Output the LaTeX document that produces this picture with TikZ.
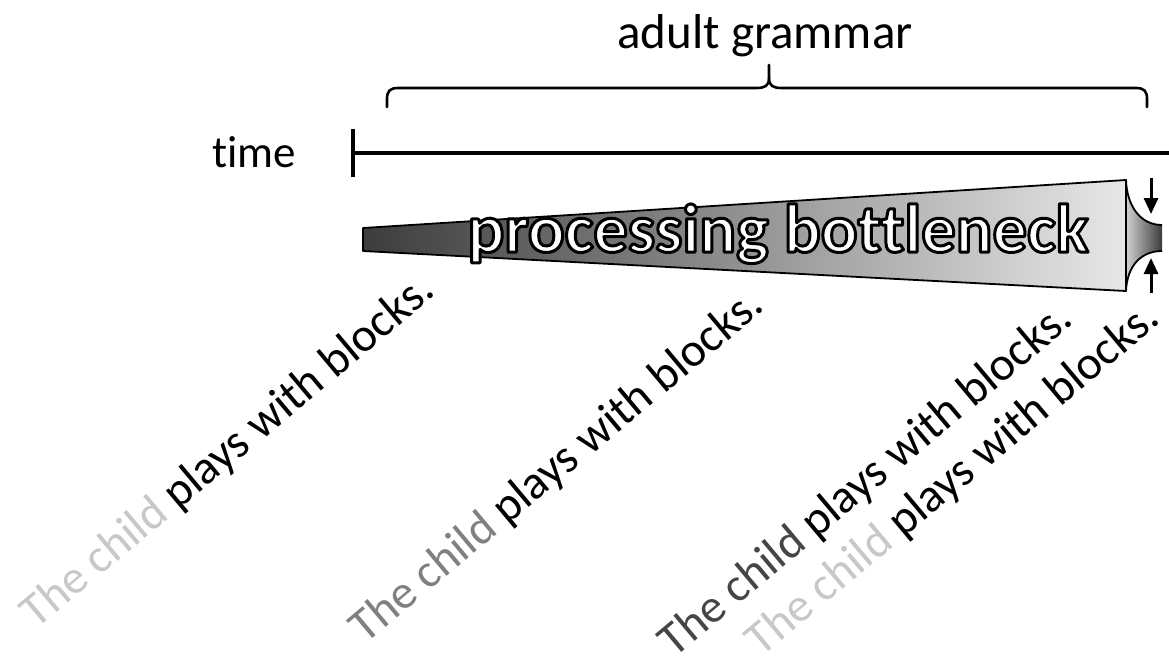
\documentclass[tikz,border=0pt]{standalone}
\usepackage{fontspec}
\setmainfont{Carlito}[Ligatures={NoCommon}]
\usetikzlibrary{arrows.meta}
\definecolor{lightgry}{HTML}{C8C8C8}
\definecolor{midgry}{HTML}{808080}
\definecolor{darkgry}{HTML}{454545}
\definecolor{shadedark}{HTML}{3C3C3C}
\definecolor{shadelight}{HTML}{E8E8E8}
\newcommand{\outlinetext}[1]{\special{pdf:literal direct 0 G 3 w 1 j 2 Tr}#1\special{pdf:literal direct 0 Tr}}
\tikzset{
  sentence/.style={rotate=40, anchor=base east, inner sep=0pt, font=\fontsize{47.5}{58}\selectfont},
  label/.style={inner sep=0pt, anchor=base},
  thickline/.style={line width=4pt},
  bracestyle/.style={line width=2.6pt, line cap=round, line join=round},
  squeeze/.style={line width=3pt, -{Triangle[width=14pt,length=16pt]}},
  outlined/.style={line width=1.8pt, line join=round}
}
\begin{document}
\begin{tikzpicture}[x=1pt,y=-1pt]
\useasboundingbox (0,0) rectangle (1169,667);
% labels
\node[label, font=\fontsize{49}{58}\selectfont] (adult) at (765,48) {adult grammar};
\node[label, font=\fontsize{45}{54}\selectfont] (time) at (254,167) {time};
% brace
\coordinate (bl) at (387,107);
\coordinate (br) at (1147,107);
\coordinate (bt) at (769,65);
\draw[bracestyle] (bl) -- (387,99) .. controls (387,91) and (390,88) .. (398,88) -- (756,88)
  .. controls (765,88) and (769,86) .. (769,78) -- (bt);
\draw[bracestyle] (br) -- (1147,99) .. controls (1147,91) and (1144,88) .. (1136,88) -- (782,88)
  .. controls (773,88) and (769,86) .. (769,78);
% timeline
\coordinate (t0) at (353,153);
\coordinate (t1) at (1169,153);
\coordinate (tk1) at (353,129);
\coordinate (tk2) at (353,177);
\draw[thickline] (t0) -- (t1);
\draw[thickline] (tk1) -- (tk2);
% bottleneck
\coordinate (p1) at (363,228);
\coordinate (p2) at (1126,180);
\coordinate (p3) at (1126,291);
\coordinate (p4) at (363,251);
\shade[left color=shadedark, right color=shadelight] (p1) -- (p2) -- (p3) -- (p4) -- cycle;
\draw[outlined] (p1) -- (p2) -- (p3) -- (p4) -- cycle;
\coordinate (f1) at (1162,225);
\coordinate (f2) at (1162,251);
\shade[left color=shadelight!90!black, right color=shadedark] (p2) .. controls (1127,207) and (1141,225) .. (f1) -- (f2)
  .. controls (1141,251) and (1127,266) .. (p3) -- cycle;
\draw[outlined] (p2) .. controls (1127,207) and (1141,225) .. (f1);
\draw[outlined] (f2) .. controls (1141,251) and (1127,266) .. (p3);
\draw[outlined] (p2) -- (p3);
\node[label, text=white, font=\bfseries\fontsize{68.5}{80}\selectfont] (pb) at (778,252) {\outlinetext{processing bottleneck}};
% squeeze arrows
\coordinate (da1) at (1151,178);
\coordinate (da2) at (1151,214);
\coordinate (ua1) at (1151,293);
\coordinate (ua2) at (1151,258);
\draw[squeeze] (da1) -- (da2);
\draw[squeeze] (ua1) -- (ua2);
% sentences
\node[sentence] (s1) at (437,294) {\textcolor{lightgry}{The child} plays with blocks.};
\node[sentence] (s2) at (766,309) {\textcolor{midgry}{The child} plays with blocks.};
\node[sentence] (s3) at (1075,323) {\textcolor{darkgry}{The child} plays with blocks.};
\node[sentence] (s4) at (1162,322) {\textcolor{lightgry}{The child} plays with blocks.};
\end{tikzpicture}
\end{document}
